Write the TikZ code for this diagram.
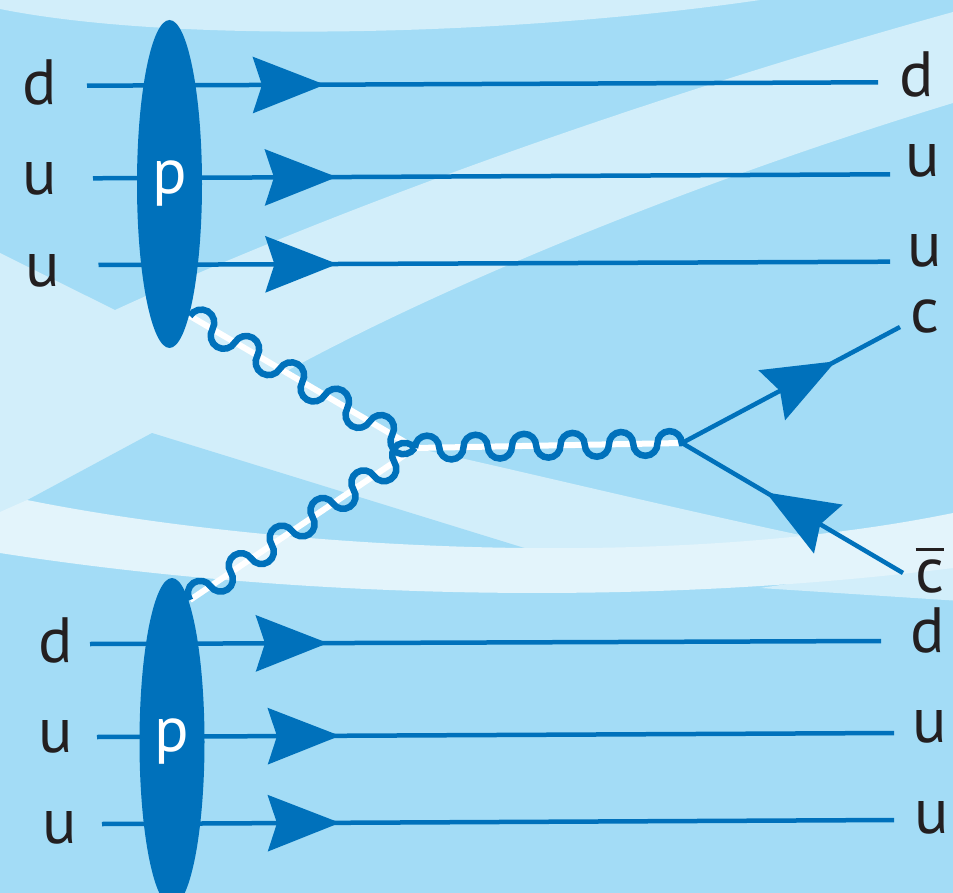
\documentclass[tikz,border=0pt]{standalone}
\usepackage{fontspec}
\setmainfont{PT Sans}
\usetikzlibrary{arrows.meta,decorations,decorations.markings,shapes.geometric}

\definecolor{qblue}{HTML}{0071BB}
\definecolor{bgmid}{HTML}{A3DCF6}
\definecolor{bglight}{HTML}{D2EEFA}
\definecolor{bglightest}{HTML}{E3F4FB}
\definecolor{ink}{HTML}{231F20}

\newcommand\qfont{\fontsize{64}{70}\selectfont}

% gluon line: half circles alternating on both sides of the path
\pgfdeclaredecoration{halfcircles}{up}{%
  \state{up}[width=\pgfdecorationsegmentlength, next state=down]{%
    \pgfmathsetlengthmacro{\halfr}{0.5*\pgfdecorationsegmentlength}%
    \pgfpathcurveto{\pgfpoint{0pt}{0.5523*\halfr}}{\pgfpoint{0.4477*\halfr}{\halfr}}{\pgfpoint{\halfr}{\halfr}}%
    \pgfpathcurveto{\pgfpoint{1.5523*\halfr}{\halfr}}{\pgfpoint{2*\halfr}{0.5523*\halfr}}{\pgfpoint{2*\halfr}{0pt}}%
  }%
  \state{down}[width=\pgfdecorationsegmentlength, next state=up]{%
    \pgfmathsetlengthmacro{\halfr}{0.5*\pgfdecorationsegmentlength}%
    \pgfpathcurveto{\pgfpoint{0pt}{-0.5523*\halfr}}{\pgfpoint{0.4477*\halfr}{-\halfr}}{\pgfpoint{\halfr}{-\halfr}}%
    \pgfpathcurveto{\pgfpoint{1.5523*\halfr}{-\halfr}}{\pgfpoint{2*\halfr}{-0.5523*\halfr}}{\pgfpoint{2*\halfr}{0pt}}%
  }%
  \state{final}{\pgfpathlineto{\pgfpointdecoratedpathlast}}%
}

\tikzset{
  quark/.style={draw=qblue, line width=4.5pt, postaction={decorate,
      decoration={markings, mark=at position #1 with
        {\arrow{Stealth[length=72pt,width=56pt,inset=9pt]}}}}},
  gluon/.style={draw=qblue, line width=6.5pt, decorate,
      decoration={halfcircles, segment length=#1}},
  gluonbed/.style={draw=white, line width=6pt},
  proton/.style={ellipse, fill=qblue, inner sep=0pt, minimum width=65pt,
      minimum height=328pt, text=white, font=\qfont},
  qlabel/.style={anchor=base, text=ink, font=\qfont, inner sep=0pt},
}

\begin{document}
\begin{tikzpicture}[x=1pt, y=-1pt]
\useasboundingbox (0,0) rectangle (953,893);
\clip (0,0) rectangle (953,893);

% background bands
\fill[bgmid] (0,0) rectangle (953,893);
\fill[bglight] (0,0) -- (0,9) .. controls (180,45) and (520,35) .. (760,0) -- cycle;
\fill[bglight] (0,253) -- (115,310) .. controls (300,225) and (600,110) .. (953,12)
  -- (953,103) .. controls (700,180) and (450,282) .. (285,372)
  -- (415,448) .. controls (500,466) and (650,503) .. (800,535)
  -- (800,562) -- (0,540) -- cycle;
\fill[bgmid] (20,504) -- (152,433) -- (560,559) -- (560,575) -- (20,545) -- cycle;
\fill[bglight] (760,588) -- (953,560) -- (953,600.5) -- cycle;
\fill[bglightest] (0,512) -- (27,500) .. controls (250,545) and (650,575) .. (953,513)
  -- (953,568) .. controls (600,612) and (250,592) .. (0,553) -- cycle;

% vertices and line ends
\coordinate (V) at (415,448);
\coordinate (Q) at (682,443);
\coordinate (g1) at (190,316);
\coordinate (g2) at (190,600);
\coordinate (cend) at (900,327);
\coordinate (cbend) at (903,573);

\coordinate (a1) at (87,85.7);   \coordinate (b1) at (878,82.3);
\coordinate (a2) at (93,178.3);  \coordinate (b2) at (890,174.3);
\coordinate (a3) at (98.5,265);  \coordinate (b3) at (890,261.7);
\coordinate (a4) at (90,644);    \coordinate (b4) at (881,641);
\coordinate (a5) at (97,737);    \coordinate (b5) at (894,733);
\coordinate (a6) at (102,824);   \coordinate (b6) at (894,820);

% gluons
\draw[gluonbed] (g1) -- (V);
\draw[gluonbed] (g2) -- (V);
\draw[gluonbed] (V) -- (Q);
\draw[gluon=26.05pt] (g1) -- (V);
\draw[gluon=24.65pt] (g2) -- (V);
\draw[gluon=24.25pt] (V) -- (Q);

% quarks
\draw[quark=238pt] (a1) -- (b1);
\draw[quark=244pt] (a2) -- (b2);
\draw[quark=239pt] (a3) -- (b3);
\draw[quark=238pt] (a4) -- (b4);
\draw[quark=243pt] (a5) -- (b5);
\draw[quark=238pt] (a6) -- (b6);
\draw[quark=174pt] (Q) -- (cend);
\draw[quark=159pt] (cbend) -- (Q);

% protons
\node[proton] (p1) at (169.5,184) {p};
\node[proton] (p2) at (172,742) {p};

% labels
\node[qlabel] (l1) at (40,105) {d};
\node[qlabel] (l2) at (40,195) {u};
\node[qlabel] (l3) at (43,287) {u};
\node[qlabel] (l4) at (56,662) {d};
\node[qlabel] (l5) at (56,752) {u};
\node[qlabel] (l6) at (60,843) {u};
\node[qlabel] (r1) at (917,97) {d};
\node[qlabel] (r2) at (923,177) {u};
\node[qlabel] (r3) at (925,267) {u};
\node[qlabel] (r4) at (928,652) {d};
\node[qlabel] (r5) at (930,742) {u};
\node[qlabel] (r6) at (932,833) {u};
\node[qlabel] (rc) at (925,332) {c};
\node[qlabel] (rcb) at (930,592) {\vbox{\hrule height 3pt\kern 8pt\hbox{c}}};
\end{tikzpicture}
\end{document}
